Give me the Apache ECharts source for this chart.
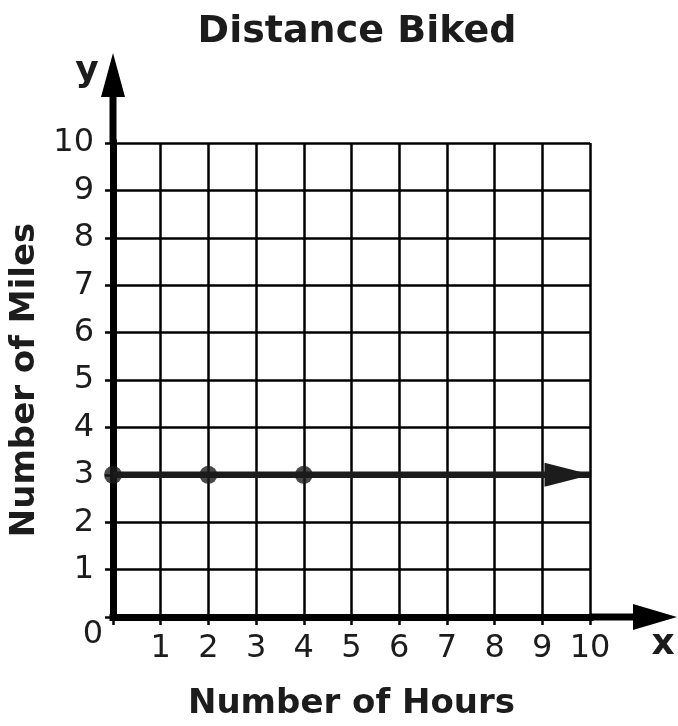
<!DOCTYPE html>
<html>
<head>
<meta charset="utf-8">
<script src="https://cdn.jsdelivr.net/npm/echarts@6/dist/echarts.min.js"></script>
<style>
  html, body { margin: 0; padding: 0; background: #fff; }
  #chart { width: 678px; height: 726px; }
</style>
</head>
<body>
<div id="chart"></div>
<script>
// data
var hourTicks = [0, 1, 2, 3, 4, 5, 6, 7, 8, 9, 10];
var mileTicks = [0, 1, 2, 3, 4, 5, 6, 7, 8, 9, 10];
var pointHours = [0, 2, 4];
var pointMiles = [3, 3, 3];
var rayHours = [0, 10];
var rayMiles = [3, 3];

var ink = '#1c1c1c';
var font = 'DejaVu Sans';

var myChart = echarts.init(document.getElementById('chart'));

function axisCommon(ticks) {
  return {
    type: 'value',
    min: ticks[0],
    max: ticks[ticks.length - 1],
    interval: 1,
    axisLine: { show: true, lineStyle: { color: '#000', width: 7, cap: 'square' } },
    axisTick: { show: true, length: 8, lineStyle: { color: '#000', width: 2.5 } },
    splitLine: { show: true, lineStyle: { color: '#000', width: 2.5 } },
    axisLabel: {
      color: ink,
      fontFamily: font,
      fontSize: 32,
      formatter: function (v) { return v === 0 ? '' : String(v) }
    },
    nameLocation: 'middle',
    nameTextStyle: { color: ink, fontFamily: font, fontWeight: 'bold', fontSize: 34 }
  }
}

var xAxis = axisCommon(hourTicks);
xAxis.name = 'Number of Hours';
xAxis.nameGap = 70;
xAxis.axisLabel.margin = 16;

var yAxis = axisCommon(mileTicks);
yAxis.name = 'Number of Miles';
yAxis.nameGap = 63;
yAxis.axisLabel.margin = 19;

var option = {
  animation: false,
  backgroundColor: '#fff',
  title: {
    text: 'Distance Biked',
    left: 352,
    textAlign: 'center',
    top: 8,
    textStyle: { color: ink, fontFamily: font, fontWeight: 'bold', fontSize: 38 }
  },
  grid: { left: 113, right: 88, top: 143, bottom: 105 },
  xAxis: xAxis,
  yAxis: yAxis,
  series: [
    {
      type: 'line',
      data: rayHours.map(function (h, i) {
        var item = { value: [h, rayMiles[i]], symbol: 'none' };
        if (i === rayHours.length - 1) {
          item.symbol = 'triangle';
          item.symbolSize = [24, 47];
          item.symbolRotate = -90;
          item.symbolOffset = [-22, 0];
          item.itemStyle = { color: ink };
        }
        return item;
      }),
      lineStyle: { color: ink, width: 6.5 },
      clip: false,
      z: 5
    },
    {
      type: 'scatter',
      data: pointHours.map(function (h, i) { return [h, pointMiles[i]] }),
      symbol: 'circle',
      symbolSize: 18,
      itemStyle: { color: ink },
      clip: false,
      z: 6
    }
  ]
};
myChart.setOption(option);

// axis arrows and letters, placed from the axis scales
var origin = myChart.convertToPixel({ gridIndex: 0 }, [0, 0]);
var xEnd = myChart.convertToPixel({ gridIndex: 0 }, [10, 0]);
var yEnd = myChart.convertToPixel({ gridIndex: 0 }, [0, 10]);

myChart.setOption({
  graphic: [
    { type: 'line', shape: { x1: xEnd[0], y1: xEnd[1], x2: xEnd[0] + 50, y2: xEnd[1] },
      style: { stroke: '#000', lineWidth: 7 } },
    { type: 'polygon', shape: { points: [[xEnd[0] + 43, xEnd[1] - 13], [xEnd[0] + 87, xEnd[1]], [xEnd[0] + 43, xEnd[1] + 13]] },
      style: { fill: '#000' } },
    { type: 'line', shape: { x1: yEnd[0], y1: yEnd[1], x2: yEnd[0], y2: yEnd[1] - 50 },
      style: { stroke: '#000', lineWidth: 7 } },
    { type: 'polygon', shape: { points: [[yEnd[0] - 12, yEnd[1] - 46], [yEnd[0], yEnd[1] - 90], [yEnd[0] + 12, yEnd[1] - 46]] },
      style: { fill: '#000' } },
    { type: 'text', x: xEnd[0] + 73, y: xEnd[1] + 28,
      style: { text: 'x', fill: ink, font: 'bold 36px "DejaVu Sans"', align: 'center', verticalAlign: 'middle' } },
    { type: 'text', x: yEnd[0] - 26, y: yEnd[1] - 71,
      style: { text: 'y', fill: ink, font: 'bold 36px "DejaVu Sans"', align: 'center', verticalAlign: 'middle' } },
    { type: 'text', x: origin[0] - 20, y: origin[1] + 18,
      style: { text: '0', fill: ink, font: '32px "DejaVu Sans"', align: 'center', verticalAlign: 'middle' } }
  ]
});
</script>
</body>
</html>
